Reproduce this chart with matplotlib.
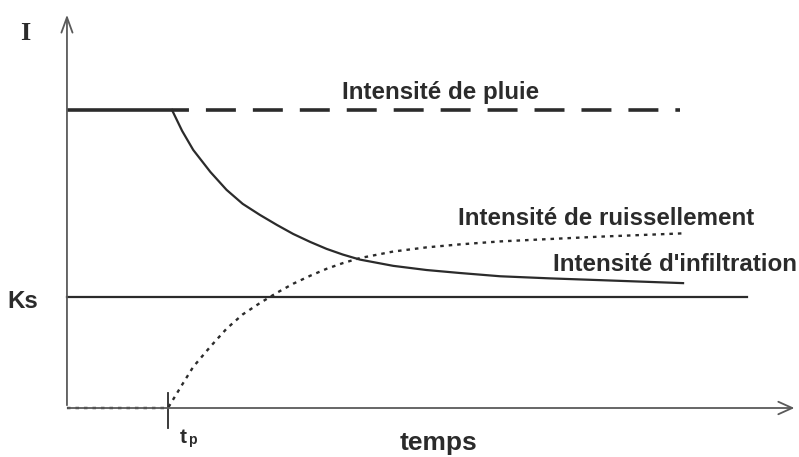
import matplotlib
matplotlib.use("Agg")
import matplotlib.pyplot as plt

# schematic of rain / infiltration / runoff intensity vs time
tp = 1.0
rain = 10.0
ks = 3.72
t_end = 6.07

# infiltration curve
t_inf = [1.04, 1.14, 1.25, 1.42, 1.58, 1.74, 1.91, 2.08, 2.24, 2.41, 2.57, 2.73, 2.90,
         3.23, 3.56, 3.89, 4.29, 4.78, 5.28, 6.10]
i_inf = [10.0, 9.30, 8.66, 7.92, 7.32, 6.85, 6.48, 6.14, 5.84, 5.57, 5.34, 5.15, 4.98,
         4.77, 4.63, 4.53, 4.42, 4.35, 4.29, 4.19]

# runoff curve (zero before tp)
t_run = [0.0, 1.0, 1.14, 1.25, 1.42, 1.58, 1.74, 1.91, 2.08, 2.24, 2.41, 2.57, 2.73, 2.90,
         3.23, 3.56, 3.89, 4.29, 4.78, 5.28, 6.10]
i_run = [0.0, 0.0, 0.78, 1.38, 2.06, 2.66, 3.14, 3.52, 3.87, 4.17, 4.44, 4.67, 4.86, 5.03,
         5.25, 5.39, 5.49, 5.59, 5.67, 5.75, 5.86]

ks_end = 6.73
x_axis_end = 7.23
y_axis_end = 13.29

dark = "#2b2b2b"
axis_col = "#5a5a5a"

fig = plt.figure(figsize=(7.99, 4.57), dpi=100)
ax = fig.add_axes([0, 0, 1, 1])
ax.set_xlim(-0.663, 7.248)
ax.set_ylim(-1.644, 13.69)
ax.axis("off")

# axes with open arrow heads
ax.annotate("", xy=(x_axis_end, 0), xytext=(-0.02, 0),
            arrowprops=dict(arrowstyle="->,head_length=1.0,head_width=0.45", color=axis_col, lw=1.3))
ax.annotate("", xy=(0, y_axis_end), xytext=(0, 0),
            arrowprops=dict(arrowstyle="->,head_length=1.1,head_width=0.4", color=axis_col, lw=1.3))

# rain intensity: solid until tp, dashed afterwards
ax.plot([0, tp], [rain, rain], color=dark, lw=2.6, solid_capstyle="butt")
ax.plot([tp, t_end], [rain, rain], color=dark, lw=2.6, linestyle=(2.5, (8.3, 4.7)),
        dash_capstyle="butt")

# Ks line
ax.plot([0, ks_end], [ks, ks], color=dark, lw=1.6)

# infiltration
ax.plot(t_inf, i_inf, color=dark, lw=1.6)

# runoff dotted
ax.plot(t_run, i_run, color=dark, lw=1.7, dashes=(1.5, 2.1))

# tp tick
ax.plot([tp, tp], [0.5, -0.67], color=dark, lw=1.3)

font = "Liberation Sans"
ax.text(-0.416, 12.55, "I", family="Liberation Serif", weight="bold", fontsize=19, color=dark,
        ha="center", va="center")
ax.text(3.70, 10.37, "Intensité de pluie", family=font, weight="bold", fontsize=17.4,
        color=dark, ha="center", va="baseline")
ax.text(5.34, 6.14, "Intensité de ruissellement", family=font, weight="bold", fontsize=17.4,
        color=dark, ha="center", va="baseline")
ax.text(6.025, 4.60, "Intensité d'infiltration", family=font, weight="bold", fontsize=17.4,
        color=dark, ha="center", va="baseline")
ax.text(-0.436, 3.36, "Ks", family=font, weight="bold", fontsize=17.4, color=dark,
        ha="center", va="baseline")
ax.text(3.68, -1.41, "temps", family=font, weight="bold", fontsize=19, color=dark,
        ha="center", va="baseline")
ax.text(1.12, -1.17, "t", family=font, weight="bold", fontsize=15, color=dark,
        ha="left", va="baseline")
ax.text(1.20, -1.20, "p", family=font, weight="bold", fontsize=10, color=dark,
        ha="left", va="baseline")

fig.savefig("out.png", dpi=100)
